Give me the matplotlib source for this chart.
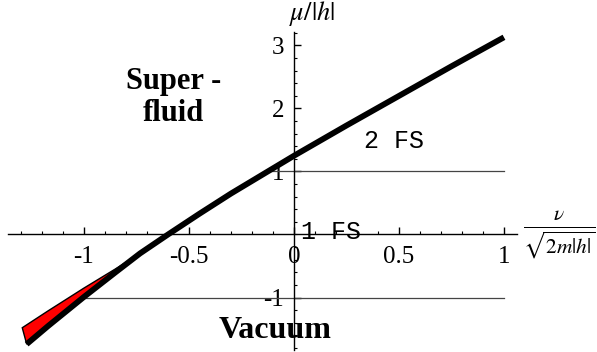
import numpy as np
import matplotlib
matplotlib.use("Agg")
import matplotlib.pyplot as plt
from matplotlib.ticker import FixedLocator

plt.rcParams['mathtext.fontset'] = 'stix'
plt.rcParams['font.family'] = 'Liberation Serif'

# thick boundary curve
curve_x = [-1.273, -1.17, -1.0, -0.85, -0.733, -0.6, -0.45, -0.3, -0.15, 0.0, 0.25, 0.5, 0.75, 1.0]
curve_y = [-1.74, -1.45, -0.99, -0.6, -0.3, 0.0, 0.33, 0.65, 0.95, 1.25, 1.73, 2.2, 2.67, 3.13]

# upper edge of the red sliver
red_x = [-1.294, -1.17, -1.0, -0.852, -0.733]
red_y = [-1.48, -1.21, -0.85, -0.55, -0.3]

# horizontal lines: (y, x start, x end)
hlines = [(1.0, -0.11, 1.0), (-1.0, -1.0, 1.0)]

xticks = [-1, -0.5, 0, 0.5, 1]
xtick_labels = ['-1', '-0.5', '0', '0.5', '1']
yticks = [-1, 1, 2, 3]
ytick_labels = ['-1', '1', '2', '3']

fig = plt.figure(figsize=(5.97, 3.52), dpi=100)
ax = fig.add_axes([0, 0, 1, 1])
ax.set_xlim(-1.4, 1.443)
ax.set_ylim(-1.865, 3.722)

for s in ['top', 'right']:
    ax.spines[s].set_visible(False)
ax.spines['left'].set_position(('data', 0))
ax.spines['bottom'].set_position(('data', 0))
ax.spines['left'].set_bounds(-1.83, 3.22)
ax.spines['bottom'].set_bounds(-1.362, 1.062)
for s in ['left', 'bottom']:
    ax.spines[s].set_linewidth(1.0)

ax.xaxis.set_major_locator(FixedLocator(xticks))
ax.set_xticklabels(xtick_labels)
ax.xaxis.set_minor_locator(FixedLocator(np.arange(-13, 11) / 10))
ax.yaxis.set_major_locator(FixedLocator(yticks))
ax.set_yticklabels(ytick_labels)
ax.yaxis.set_minor_locator(FixedLocator(np.arange(-9, 17) / 5))
ax.tick_params(which='major', direction='in', length=5, width=1, labelsize=18, pad=7)
ax.tick_params(which='minor', direction='in', length=2.5, width=0.8)
ax.tick_params(axis='x', which='major', pad=8)

for y, x0, x1 in hlines:
    ax.plot([x0, x1], [y, y], color='#444444', lw=0.9, zorder=2)

# red region between the thin upper edge and the thick curve
seg = [i for i, x in enumerate(curve_x) if x <= -0.733]
poly_x = list(red_x) + [curve_x[i] for i in reversed(seg)]
poly_y = list(red_y) + [curve_y[i] for i in reversed(seg)]
ax.fill(poly_x, poly_y, facecolor='red', edgecolor='black', lw=1.0, zorder=3)

ax.plot(curve_x, curve_y, color='black', lw=4.2, solid_capstyle='butt',
        solid_joinstyle='round', zorder=4)

ax.text(-0.575, 2.18, 'Super -\nfluid', ha='center', va='center', fontsize=22,
        fontweight='bold', linespacing=1.15, zorder=5)
ax.text(-0.09, -1.52, 'Vacuum', ha='center', va='center', fontsize=23,
        fontweight='bold', zorder=5)
ax.text(0.476, 1.48, '2 FS', ha='center', va='center', fontsize=18,
        family='Liberation Mono', zorder=5)
ax.text(0.176, 0.04, '1 FS', ha='center', va='center', fontsize=18,
        family='Liberation Mono', zorder=5)

ax.text(0.085, 3.5, r'$\mu/|h|$', ha='center', va='center', fontsize=19)
ax.text(1.262, 0.0, r'$\frac{\nu}{\sqrt{2m|h|}}$', ha='center', va='center', fontsize=22)

fig.savefig('out.png', dpi=100)
